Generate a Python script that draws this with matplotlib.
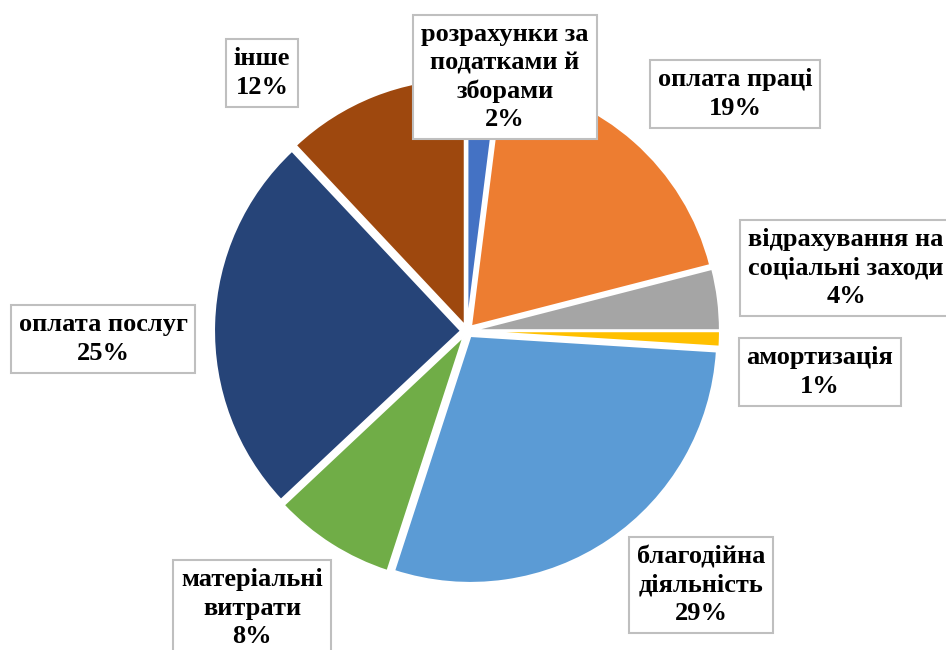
import matplotlib.pyplot as plt

# expense structure, shares in %
names = ["розрахунки за\nподатками й\nзборами", "оплата праці",
         "відрахування на\nсоціальні заходи", "амортизація",
         "благодійна\nдіяльність", "матеріальні\nвитрати",
         "оплата послуг", "інше"]
shares = [2, 19, 4, 1, 29, 8, 25, 12]
colors = ["#4472C4", "#ED7D31", "#A5A5A5", "#FFC000",
          "#5B9BD5", "#70AD47", "#264478", "#9E480E"]

# label box centres (pixels from top-left)
label_pos = [(505, 77), (735, 94), (846, 268), (820, 372),
             (701, 585), (252, 608), (103, 339), (262, 73)]

W, H = 946, 650
fig = plt.figure(figsize=(W / 100, H / 100), dpi=100)
ax = fig.add_axes([0, 0, 1, 1])

# explode is in data units here (pixels)
ax.pie(shares, colors=colors, startangle=90, counterclock=False,
       center=(467, H - 331), radius=247, explode=[6] * len(shares),
       wedgeprops=dict(edgecolor="white", linewidth=1.5))

for name, pct, (x, y) in zip(names, shares, label_pos):
    ax.text(x, H - y, f"{name}\n{pct}%", ha="center", va="center",
            multialignment="center", fontsize=19, fontweight="bold",
            family="Liberation Serif", zorder=5, linespacing=1.29,
            bbox=dict(boxstyle="square,pad=0.3", fc="white",
                      ec="#bfbfbf", lw=1.5))

ax.set_xlim(0, W)
ax.set_ylim(0, H)
ax.set_aspect("equal")
ax.axis("off")

fig.savefig("out.png", dpi=100, facecolor="white")
